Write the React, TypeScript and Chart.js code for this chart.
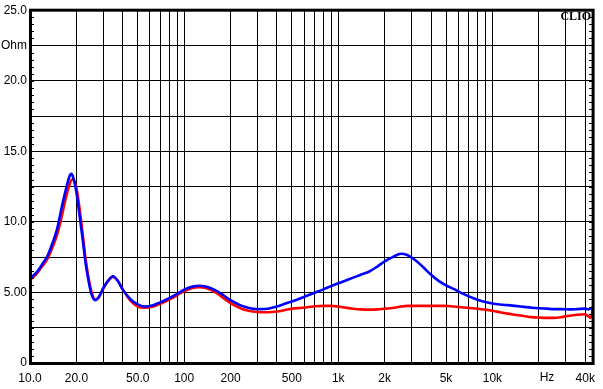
import React, { useEffect, useRef } from "react";
import { Chart, registerables } from "chart.js";

Chart.register(...registerables);

const freqs = [10, 11, 12, 13, 14, 15, 16, 17, 18, 18.5, 19, 20, 21, 22, 23, 24, 25, 26.5, 28, 30, 32, 34.5, 37, 40, 45, 50, 55, 63, 70, 80, 90, 100, 112, 125, 140, 160, 180, 200, 225, 250, 280, 315, 350, 400, 450, 500, 560, 630, 710, 800, 900, 1000, 1120, 1250, 1400, 1600, 1800, 2000, 2250, 2550, 2800, 3150, 3550, 4000, 4500, 5000, 5600, 6300, 7100, 8000, 9000, 10000, 11200, 12500, 14000, 16000, 18000, 20000, 22500, 25000, 28000, 31500, 35500, 40000, 42000, 43500, 45000];

const blueOhm = [6.0, 6.4, 7.0, 7.6, 8.5, 9.5, 10.95, 12.2, 13.2, 13.4, 13.2, 12.1, 10.4, 8.7, 7.0, 5.8, 4.9, 4.45, 4.7, 5.35, 5.8, 6.15, 5.85, 5.2, 4.5, 4.15, 4.0, 4.1, 4.3, 4.6, 4.9, 5.2, 5.4, 5.47, 5.4, 5.15, 4.8, 4.45, 4.15, 3.96, 3.85, 3.82, 3.85, 4.0, 4.2, 4.36, 4.55, 4.78, 5.0, 5.22, 5.45, 5.65, 5.85, 6.05, 6.25, 6.5, 6.85, 7.2, 7.5, 7.74, 7.65, 7.3, 6.8, 6.25, 5.8, 5.5, 5.25, 4.95, 4.7, 4.48, 4.32, 4.22, 4.15, 4.1, 4.05, 3.98, 3.92, 3.88, 3.85, 3.82, 3.82, 3.8, 3.82, 3.85, 3.8, 3.85, 3.95];

const redOhm = [5.9, 6.3, 6.85, 7.4, 8.2, 9.1, 10.3, 11.6, 12.6, 12.95, 13.0, 12.4, 10.9, 9.1, 7.3, 6.0, 5.1, 4.5, 4.65, 5.3, 5.8, 6.1, 5.85, 5.2, 4.4, 4.0, 3.92, 4.0, 4.2, 4.5, 4.8, 5.1, 5.3, 5.37, 5.3, 5.0, 4.6, 4.25, 3.95, 3.75, 3.65, 3.6, 3.6, 3.65, 3.75, 3.85, 3.9, 3.95, 4.02, 4.05, 4.05, 4.0, 3.92, 3.85, 3.8, 3.78, 3.8, 3.85, 3.9, 4.0, 4.05, 4.05, 4.05, 4.05, 4.05, 4.05, 4.0, 3.95, 3.9, 3.85, 3.78, 3.7, 3.6, 3.5, 3.42, 3.33, 3.25, 3.22, 3.2, 3.2, 3.25, 3.35, 3.42, 3.45, 3.3, 3.2, 4.0];

const xGrid = [10, 20, 30, 40, 50, 60, 70, 80, 90, 100, 200, 300, 400, 500, 600, 700, 800, 900, 1000, 2000, 3000, 4000, 5000, 6000, 7000, 8000, 9000, 10000, 20000, 30000, 40000];
const xLabels: Record<number, string> = { 10: "10.0", 20: "20.0", 50: "50.0", 100: "100", 200: "200", 500: "500", 1000: "1k", 2000: "2k", 5000: "5k", 10000: "10k", 40000: "40k" };
const yLabels: Record<string, string> = { "0": "0", "5": "5.00", "10": "10.0", "15": "15.0", "20": "20.0", "22.5": "Ohm", "25": "25.0" };

const framePlugin = {
  id: "frame",
  afterDraw(chart: any) {
    const { ctx, chartArea: a, scales } = chart;
    ctx.save();
    ctx.strokeStyle = "#000";
    ctx.lineWidth = 3;
    ctx.strokeRect(a.left + 0.5, a.top, a.right - a.left - 0.5, a.bottom - a.top + 0.5);
    ctx.lineWidth = 1;
    const ys = scales.y;
    ctx.beginPath();
    for (let v = 0.5; v < 25; v += 0.5) {
      const y = Math.round(ys.getPixelForValue(v)) + 0.5;
      ctx.moveTo(a.left, y);
      ctx.lineTo(a.left + 4, y);
      ctx.moveTo(a.right - 4, y);
      ctx.lineTo(a.right, y);
    }
    ctx.stroke();
    ctx.fillStyle = "#000";
    ctx.font = "bold 12px 'Liberation Serif', serif";
    ctx.textAlign = "right";
    ctx.textBaseline = "alphabetic";
    ctx.fillText("CLIO", a.right - 2, a.top + 9.5);
    ctx.font = "12px 'Liberation Sans', Arial, sans-serif";
    ctx.textAlign = "center";
    ctx.textBaseline = "middle";
    ctx.fillText("Hz", 547, 378);
    ctx.restore();
  },
};

export default function App() {
  const ref = useRef<HTMLCanvasElement>(null);
  useEffect(() => {
    document.body.style.margin = "0";
    const chart = new Chart(ref.current!, {
      type: "line",
      data: {
        labels: freqs,
        datasets: [
          {
            data: freqs.map((f, i) => ({ x: f, y: blueOhm[i] })),
            borderColor: "#0000ff",
            borderWidth: 2.6,
            pointRadius: 0,
            cubicInterpolationMode: "monotone",
          },
          {
            data: freqs.map((f, i) => ({ x: f, y: redOhm[i] })),
            borderColor: "#ff0000",
            borderWidth: 2.6,
            pointRadius: 0,
            cubicInterpolationMode: "monotone",
          },
        ],
      },
      options: {
        animation: false,
        responsive: false,
        events: [],
        layout: { padding: { top: 10, right: 8, left: 0, bottom: 0 } },
        plugins: { legend: { display: false }, tooltip: { enabled: false } },
        scales: {
          x: {
            type: "logarithmic",
            min: 10,
            max: 45000,
            afterBuildTicks: (s: any) => {
              s.ticks = xGrid.map((v) => ({ value: v }));
            },
            afterFit: (s: any) => {
              s.height = 26;
            },
            grid: { color: "#000", lineWidth: 1, drawTicks: false },
            border: { display: false },
            ticks: {
              autoSkip: false,
              maxRotation: 0,
              padding: 8,
              color: "#000",
              font: { family: "'Liberation Sans', Arial, sans-serif", size: 12 },
              callback: (v: any) => xLabels[Number(v)] ?? "",
            },
          },
          y: {
            type: "linear",
            min: 0,
            max: 25,
            afterFit: (s: any) => {
              s.width = 30;
            },
            grid: { color: "#000", lineWidth: 1, drawTicks: false },
            border: { display: false },
            ticks: {
              stepSize: 2.5,
              padding: 3,
              color: "#000",
              font: { family: "'Liberation Sans', Arial, sans-serif", size: 12 },
              callback: (v: any) => yLabels[String(Number(v))] ?? "",
            },
          },
        },
      },
      plugins: [framePlugin],
    } as any);
    return () => chart.destroy();
  }, []);
  return <canvas ref={ref} width={603} height={389} style={{ display: "block" }} />;
}
